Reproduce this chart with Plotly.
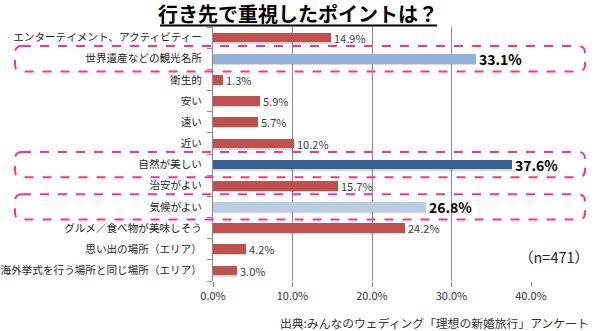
import plotly.graph_objects as go

categories = ["エンターテイメント、アクティビティー", "世界遺産などの観光名所", "衛生的", "安い", "遠い", "近い",
              "自然が美しい", "治安がよい", "気候がよい", "グルメ／食べ物が美味しそう", "思い出の場所（エリア）",
              "海外挙式を行う場所と同じ場所（エリア）"]
values = [14.9, 33.1, 1.3, 5.9, 5.7, 10.2, 37.6, 15.7, 26.8, 24.2, 4.2, 3.0]
highlight = [1, 6, 8]
x_ticks = [0, 10, 20, 30, 40]
x_ticktext = ["0.0%", "10.0%", "20.0%", "30.0%", "40.0%"]

RED = "#C0504D"
colors = [RED] * len(values)
colors[1] = "#95B3D7"
colors[6] = "#376092"
colors[8] = "#B9CDE5"

idx = list(range(len(categories)))
texts = []
fonts_size = []
fonts_color = []
for i, v in enumerate(values):
    if i in highlight:
        texts.append(f"<b>{v:.1f}%</b>")
        fonts_size.append(14)
        fonts_color.append("#000000")
    else:
        texts.append(f"{v:.1f}%")
        fonts_size.append(11)
        fonts_color.append("#404040")

# plot area in pixels
L, R, T, B = 213, 531, 27, 281
def px_x(px):
    return (px - L) / (R - L)
def px_y(py):
    return (B - py) / (B - T)

fig = go.Figure()
fig.add_trace(go.Bar(
    x=values, y=[i + 0.07 for i in idx], orientation="h", width=0.45,
    marker=dict(color="rgba(0,0,0,0.15)", line=dict(width=0)),
    hoverinfo="skip", showlegend=False,
))
fig.add_trace(go.Bar(
    x=values, y=idx, orientation="h", width=0.45,
    marker=dict(color=colors, line=dict(width=0)),
    text=texts, textposition="outside", cliponaxis=False, constraintext="none",
    textfont=dict(size=fonts_size, color=fonts_color, family="Noto Sans CJK JP"),
    showlegend=False,
))

row_px = (B - T) / 12.0
x0p, x1p = px_x(15), px_x(585)
rx = 7 / (R - L)
ry = 7 / row_px
for h in highlight:
    ya, yb = h - 0.6, h + 0.6
    path = (f"M {x0p+rx},{ya} L {x1p-rx},{ya} Q {x1p},{ya} {x1p},{ya+ry} "
            f"L {x1p},{yb-ry} Q {x1p},{yb} {x1p-rx},{yb} "
            f"L {x0p+rx},{yb} Q {x0p},{yb} {x0p},{yb-ry} "
            f"L {x0p},{ya+ry} Q {x0p},{ya} {x0p+rx},{ya} Z")
    fig.add_shape(type="path", path=path, xref="paper", yref="y",
                  line=dict(color="#FF3385", width=2, dash="dash"), layer="above")

fig.add_annotation(text="<b>行き先で重視したポイントは？</b>", x=px_x(298), y=px_y(13), xref="paper", yref="paper",
                   xanchor="center", yanchor="middle", showarrow=False,
                   font=dict(size=20, color="#000000", family="Noto Sans CJK JP"))
fig.add_shape(type="line", xref="paper", yref="paper", x0=px_x(160), x1=px_x(437),
              y0=px_y(25.5), y1=px_y(25.5), line=dict(color="#000000", width=2))
fig.add_annotation(text="（n=471）", x=px_x(591), y=px_y(256), xref="paper", yref="paper",
                   xanchor="right", yanchor="middle", showarrow=False,
                   font=dict(size=14.5, color="#262626", family="Noto Sans CJK JP"))
fig.add_annotation(text="出典:みんなのウェディング「理想の新婚旅行」アンケート", x=px_x(591), y=px_y(322),
                   xref="paper", yref="paper", xanchor="right", yanchor="middle", showarrow=False,
                   font=dict(size=11.8, color="#333333", family="Noto Sans CJK JP"))

fig.update_layout(
    width=600, height=331, margin=dict(l=L, r=600 - R, t=T, b=331 - B, autoexpand=False),
    paper_bgcolor="white", plot_bgcolor="white", barmode="overlay", bargap=0,
    font=dict(family="Noto Sans CJK JP", size=11, color="#262626"),
    xaxis=dict(range=[0, 40], tickvals=x_ticks, ticktext=x_ticktext, showgrid=True,
               gridcolor="#8C8C8C", gridwidth=1, zeroline=False, showline=False,
               ticks="outside", ticklen=5, tickcolor="#8C8C8C", automargin=False,
               tickfont=dict(size=11, color="#333333")),
    yaxis=dict(range=[11.5, -0.5], tickvals=idx, ticktext=categories, showgrid=False,
               zeroline=False, showline=True, linecolor="#8C8C8C", linewidth=1,
               ticks="", ticklen=0, automargin=False, ticklabelstandoff=8,
               minor=dict(tickvals=[i - 0.5 for i in range(13)], ticks="outside", ticklen=5,
                          tickcolor="#8C8C8C", showgrid=False),
               tickfont=dict(size=10.6, color="#262626")),
)
fig.write_html("out.html")
